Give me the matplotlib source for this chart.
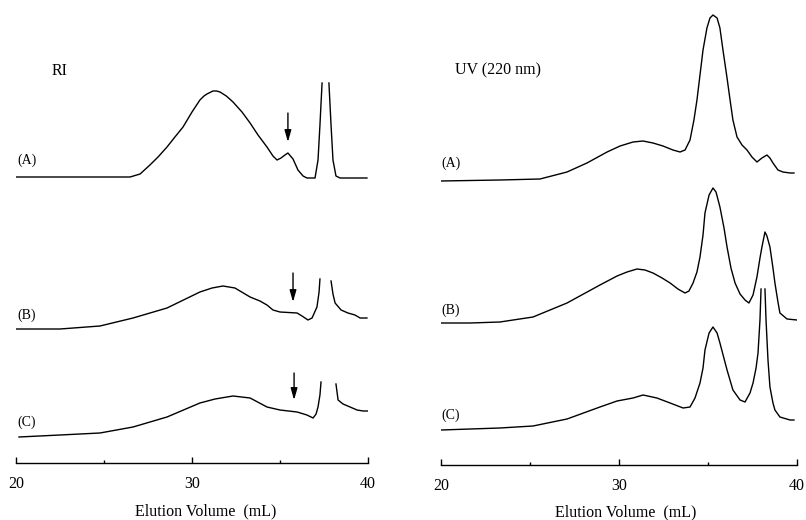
import numpy as np
import matplotlib
matplotlib.use("Agg")
import matplotlib.pyplot as plt

plt.rcParams['font.family'] = ['Liberation Serif', 'DejaVu Serif']

nan = np.nan

# RI detector traces (elution volume in mL, signal above own baseline, arbitrary units)
ri_a_vol = [20.0, 26.48, 27.05, 27.61, 28.07, 28.58, 29.03, 29.49, 30.0, 30.45, 30.68, 30.85,
            31.19, 31.40, 31.59, 31.95, 32.33, 32.84, 33.30, 33.75, 34.26, 34.60, 34.83, 35.06,
            35.28, 35.45, 35.74, 36.02, 36.31, 36.53, 36.99, 37.16, 37.27, 37.39, 37.58, 37.78,
            37.90, 38.01, 38.18, 38.41, 39.94]
ri_a_sig = [0, 0, 3, 12, 20, 30, 40, 50, 65, 77, 81, 83,
            86, 86, 85, 81, 75, 65, 54, 42, 30, 21, 17, 19,
            22, 24, 18, 7, 1, -1, -1, 17, 52, 94, nan, 94,
            52, 17, 1, -1, -1]

ri_b_vol = [20.0, 22.5, 24.77, 26.65, 28.58, 30.45, 31.14, 31.76, 32.44, 33.30, 33.86, 34.26,
            34.60, 35.0, 35.97, 36.25, 36.59, 36.82, 37.10, 37.22, 37.27, 37.6, 37.90, 38.01,
            38.13, 38.47, 38.86, 39.26, 39.55, 39.94]
ri_b_sig = [0, 0, 3, 11, 21, 37, 41, 43, 41, 32, 28, 24,
            19, 17, 16, 13, 9, 11, 22, 37, 50, nan, 48, 35,
            26, 19, 16, 14, 11, 11]

ri_c_vol = [20.17, 22.5, 24.77, 26.65, 28.58, 30.45, 31.31, 32.33, 33.30, 34.26, 35.0, 35.97,
            36.53, 36.88, 37.05, 37.16, 37.27, 37.33, 37.8, 38.18, 38.30, 38.58, 38.98, 39.38,
            39.72, 40.0]
ri_c_sig = [0, 2, 4, 10, 20, 34, 38, 41, 39, 30, 27, 25,
            22, 19, 23, 30, 42, 55, nan, 53, 37, 33, 30, 27,
            26, 26]

# UV (220 nm) traces
uv_a_vol = [20.0, 23.31, 25.56, 27.08, 28.20, 29.33, 30.06, 30.79, 31.35, 31.91, 32.47, 33.03,
            33.43, 33.71, 33.99, 34.21, 34.38, 34.55, 34.72, 34.94, 35.11, 35.28, 35.51, 35.67,
            35.84, 36.07, 36.24, 36.40, 36.63, 36.91, 37.19, 37.47, 37.75, 38.03, 38.31, 38.48,
            38.65, 38.93, 39.21, 39.61, 39.83]
uv_a_sig = [0, 1, 2, 9, 18, 29, 35, 39, 40, 38, 35, 31,
            29, 31, 41, 61, 81, 106, 131, 153, 163, 166, 163, 153,
            131, 103, 81, 61, 44, 36, 31, 24, 19, 23, 26, 23,
            18, 11, 9, 8, 8]

uv_b_vol = [20.0, 21.63, 23.31, 25.17, 27.08, 28.93, 29.89, 30.45, 31.01, 31.46, 31.91, 32.42,
            32.87, 33.31, 33.71, 33.93, 34.16, 34.38, 34.55, 34.72, 34.83, 35.06, 35.28, 35.45,
            35.67, 35.90, 36.07, 36.29, 36.52, 36.80, 37.08, 37.30, 37.53, 37.75, 37.92, 38.03,
            38.20, 38.31, 38.48, 38.65, 38.76, 38.93, 39.04, 39.44, 40.0]
uv_b_sig = [0, 0, 1, 6, 20, 38, 47, 51, 54, 53, 50, 45,
            40, 34, 30, 32, 40, 51, 66, 88, 110, 128, 135, 131,
            116, 95, 76, 55, 40, 29, 23, 20, 28, 46, 65, 76,
            91, 87, 76, 55, 40, 21, 10, 4, 3]

uv_c_vol = [20.0, 23.31, 25.17, 27.08, 28.93, 29.89, 30.79, 31.35, 32.13, 32.87, 33.60, 33.99,
            34.27, 34.55, 34.72, 34.83, 35.06, 35.28, 35.51, 35.67, 36.07, 36.40, 36.80, 37.08,
            37.36, 37.53, 37.70, 37.81, 37.92, 37.98, 38.1, 38.20, 38.26, 38.37, 38.48, 38.65,
            38.76, 39.04, 39.61, 39.83]
uv_c_sig = [0, 2, 4, 11, 23, 29, 32, 35, 32, 27, 22, 23,
            32, 47, 62, 80, 97, 103, 97, 87, 60, 40, 30, 28,
            37, 47, 62, 77, 110, 141, nan, 141, 110, 70, 43, 27,
            20, 13, 10, 10]

trace_names = ['(A)', '(B)', '(C)']
ri_offsets = [286, 134, 26]
uv_offsets = [284, 142, 35]

# arrows marking the small RI peak: (volume, top, bottom)
arrow_vol = [35.45, 35.74, 35.8]
arrow_top = [350, 190, 90]
arrow_bot = [321, 161, 63]

W, H = 806, 520
fig = plt.figure(figsize=(W / 100, H / 100), dpi=100)

ax_ri = fig.add_axes([16 / W, (H - 463) / H, 352 / W, 463 / H])
ax_uv = fig.add_axes([441 / W, (H - 465) / H, 356 / W, 465 / H])


def style_axis(ax, ytop):
    ax.set_xlim(20, 40)
    ax.set_ylim(0, ytop)
    for side in ['left', 'right', 'top']:
        ax.spines[side].set_visible(False)
    ax.spines['bottom'].set_linewidth(1.0)
    ax.set_yticks([])
    ax.set_xticks([20, 30, 40])
    ax.set_xticks([25, 35], minor=True)
    ax.tick_params(axis='x', which='major', direction='in', length=4, width=1,
                   labelsize=11.5, pad=9)
    ax.tick_params(axis='x', which='minor', direction='in', length=2.5, width=1)
    ax.set_xlabel('Elution Volume  (mL)', fontsize=11.5)
    ax.patch.set_visible(False)


style_axis(ax_ri, 463)
style_axis(ax_uv, 465)
ax_ri.xaxis.set_label_coords(0.54, -0.088)
ax_uv.xaxis.set_label_coords(0.52, -0.085)

ri_traces = [(ri_a_vol, ri_a_sig), (ri_b_vol, ri_b_sig), (ri_c_vol, ri_c_sig)]
uv_traces = [(uv_a_vol, uv_a_sig), (uv_b_vol, uv_b_sig), (uv_c_vol, uv_c_sig)]

for (vol, sig), off in zip(ri_traces, ri_offsets):
    ax_ri.plot(vol, np.array(sig, dtype=float) + off, color='black', lw=1.0,
               solid_joinstyle='round')
for (vol, sig), off in zip(uv_traces, uv_offsets):
    ax_uv.plot(vol, np.array(sig, dtype=float) + off, color='black', lw=1.0,
               solid_joinstyle='round')

# trace labels
for name, y in zip(trace_names, [303, 148, 41]):
    ax_ri.text(20.1, y, name, fontsize=10, ha='left', va='center')
for name, y in zip(trace_names, [302, 155, 50]):
    ax_uv.text(20.0, y, name, fontsize=10, ha='left', va='center')

ax_ri.text(22.05, 392, 'RI', fontsize=11.5, ha='left', va='center')
ax_uv.text(20.8, 395, 'UV (220 nm)', fontsize=11.5, ha='left', va='center')

for v, t, b in zip(arrow_vol, arrow_top, arrow_bot):
    ax_ri.annotate('', xy=(v, b), xytext=(v, t),
                   arrowprops=dict(arrowstyle='-|>,head_length=0.7,head_width=0.2',
                                   color='black', lw=1.0, shrinkA=0, shrinkB=0))

fig.savefig('out.png', dpi=100)
